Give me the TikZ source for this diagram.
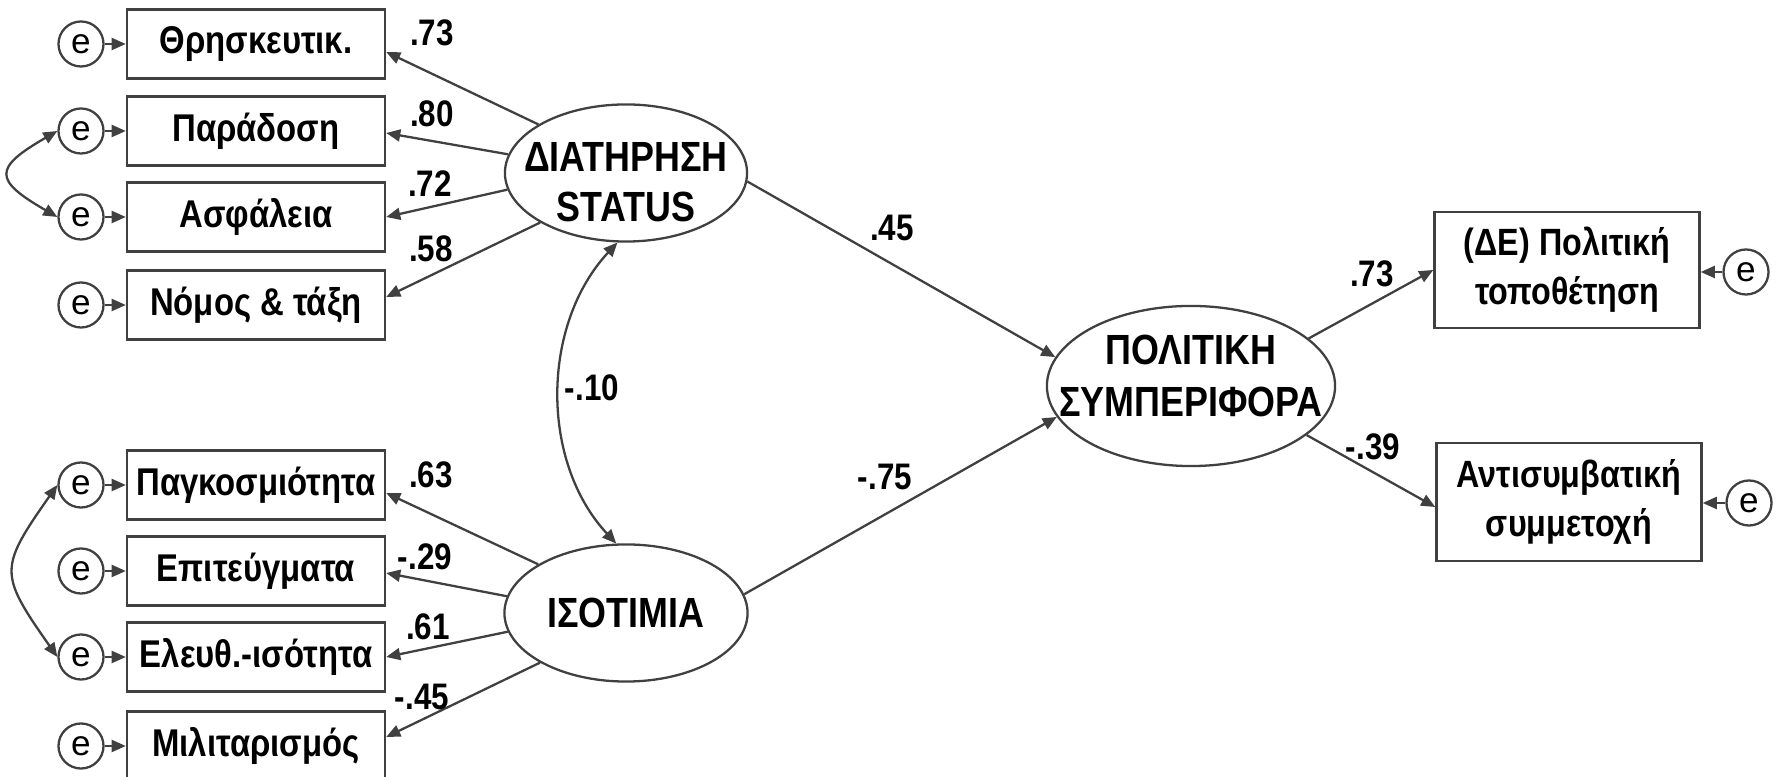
\documentclass[tikz,border=0pt]{standalone}
\usepackage{fontspec}
\setmainfont{Liberation Sans}[FakeStretch=0.85]
\newfontfamily\efont{Liberation Sans}
\usetikzlibrary{arrows.meta}
\usetikzlibrary{shapes.geometric}
\usetikzlibrary{calc}
\definecolor{lin}{RGB}{64,64,64}

\begin{document}
\begin{tikzpicture}[x=0.01cm,y=0.01cm,line width=0.65pt,
	>={Triangle[length=4pt,width=3.4pt]},
	obs/.style={draw=lin,rectangle,minimum width=2.58cm,minimum height=0.69cm,inner sep=0pt,font=\bfseries\fontsize{11}{13}\selectfont},
	obsr/.style={draw=lin,rectangle,minimum width=2.65cm,minimum height=1.16cm,inner sep=0pt,align=center,font=\bfseries\fontsize{10.8}{14}\selectfont},
	err/.style={draw=lin,circle,minimum size=0.45cm,inner sep=0pt,font=\efont\fontsize{10}{10}\selectfont},
	lat/.style={draw=lin,ellipse,inner sep=0pt},
	lattxt/.style={align=center,inner sep=0pt,font=\bfseries\fontsize{12}{14.2}\selectfont},
	coef/.style={inner sep=0pt,font=\bfseries\fontsize{10.5}{12}\selectfont},
	arr/.style={draw=lin,->}]
	\useasboundingbox (0,0) rectangle (1781,-777);

	% indicators of status
	\node[obs] (thr) at (256,-44) {Θρησκευτικ.};
	\node[obs] (par) at (256,-131) {Παράδοση};
	\node[obs] (asf) at (256,-217) {Ασφάλεια};
	\node[obs] (nom) at (256,-305) {Νόμος \& τάξη};
	% indicators of isotimia
	\node[obs] (pag) at (256,-485) {Παγκοσμιότητα};
	\node[obs] (epi) at (256,-571) {Επιτεύγματα};
	\node[obs] (ele) at (256,-657) {Ελευθ.-ισότητα};
	\node[obs] (mil) at (256,-746) {Μιλιταρισμός};

	\node[err] (ethr) at (81,-44) {e};
	\node[err] (epar) at (81,-131) {e};
	\node[err] (easf) at (81,-217) {e};
	\node[err] (enom) at (81,-305) {e};
	\node[err] (epag) at (81,-485) {e};
	\node[err] (eepi) at (81,-571) {e};
	\node[err] (eele) at (81,-657) {e};
	\node[err] (emil) at (81,-746) {e};

	% latent variables
	\node[lat,minimum width=2.42cm,minimum height=1.37cm] (dia) at (626,-173) {};
	\node[lattxt] (diatxt) at (626,-182) {ΔΙΑΤΗΡΗΣΗ\\STATUS};
	\node[lat,minimum width=2.43cm,minimum height=1.37cm] (iso) at (626,-613) {};
	\node[lattxt] (isotxt) at (iso) {ΙΣΟΤΙΜΙΑ};
	\node[lat,minimum width=2.88cm,minimum height=1.6cm] (pol) at (1191,-386) {};
	\node[lattxt,font=\bfseries\fontsize{12}{14.8}\selectfont] (poltxt) at (1191,-376) {ΠΟΛΙΤΙΚΗ\\ΣΥΜΠΕΡΙΦΟΡΑ};

	% outcomes
	\node[obsr] (topo) at (1567,-270) {(ΔΕ) Πολιτική\\τοποθέτηση};
	\node[obsr,minimum height=1.18cm] (ant) at (1569,-502) {Αντισυμβατική\\συμμετοχή};
	\node[err] (etopo) at (1746,-272) {e};
	\node[err] (eant) at (1749,-503) {e};

	% errors
	\draw[arr] (ethr) -- (thr.west |- ethr);
	\draw[arr] (epar) -- (par.west |- epar);
	\draw[arr] (easf) -- (asf.west |- easf);
	\draw[arr] (enom) -- (nom.west |- enom);
	\draw[arr] (epag) -- (pag.west |- epag);
	\draw[arr] (eepi) -- (epi.west |- eepi);
	\draw[arr] (eele) -- (ele.west |- eele);
	\draw[arr] (emil) -- (mil.west |- emil);
	\draw[arr] (etopo) -- (topo.east |- etopo);
	\draw[arr] (eant) -- (ant.east |- eant);
	\draw[arr,<->] (epar.west) .. controls +(210:74) and +(150:74) .. (easf.west);
	\draw[arr,<->] (epag.west) .. controls +(235:102) and +(125:102) .. (eele.west);

	% loadings
	\draw[arr] (dia.151) -- ($(thr.east)+(0,-8)$);
	\draw[arr] (dia.171) -- ($(par.east)+(0,-2)$);
	\draw[arr] (dia.188) -- (asf.east);
	\draw[arr] (dia.210) -- ($(nom.east)+(0,8)$);
	\draw[arr] (iso.151) -- ($(pag.east)+(0,-8)$);
	\draw[arr] (iso.172) -- ($(epi.east)+(0,-2)$);
	\draw[arr] (iso.189) -- (ele.east);
	\draw[arr] (iso.210) -- ($(mil.east)+(0,9)$);
	\node[coef] (cthr) at (432,-33) {.73};
	\node[coef] (cpar) at (432,-114) {.80};
	\node[coef] (casf) at (430,-184) {.72};
	\node[coef] (cnom) at (431,-249) {.58};
	\node[coef] (cpag) at (431,-475) {.63};
	\node[coef] (cepi) at (425,-557) {-.29};
	\node[coef] (cele) at (428,-627) {.61};
	\node[coef] (cmil) at (422,-697) {-.45};

	% structural part
	\draw[arr,<->] (dia.263) .. controls +(227:112) and +(133:112) .. (iso.98);
	\node[coef] (cov) at (592,-388) {-.10};
	\draw[arr] (dia.-4) -- (pol.168);
	\draw[arr] (iso.9) -- (pol.193);
	\node[coef] (cdia) at (892,-228) {.45};
	\node[coef] (ciso) at (885,-477) {-.75};
	\draw[arr] (pol.22) -- (topo.west);
	\draw[arr] (pol.-23) -- ($(ant.west)+(0,-5)$);
	\node[coef] (ctopo) at (1372,-274) {.73};
	\node[coef] (cant) at (1373,-447) {-.39};
\end{tikzpicture}
\end{document}
